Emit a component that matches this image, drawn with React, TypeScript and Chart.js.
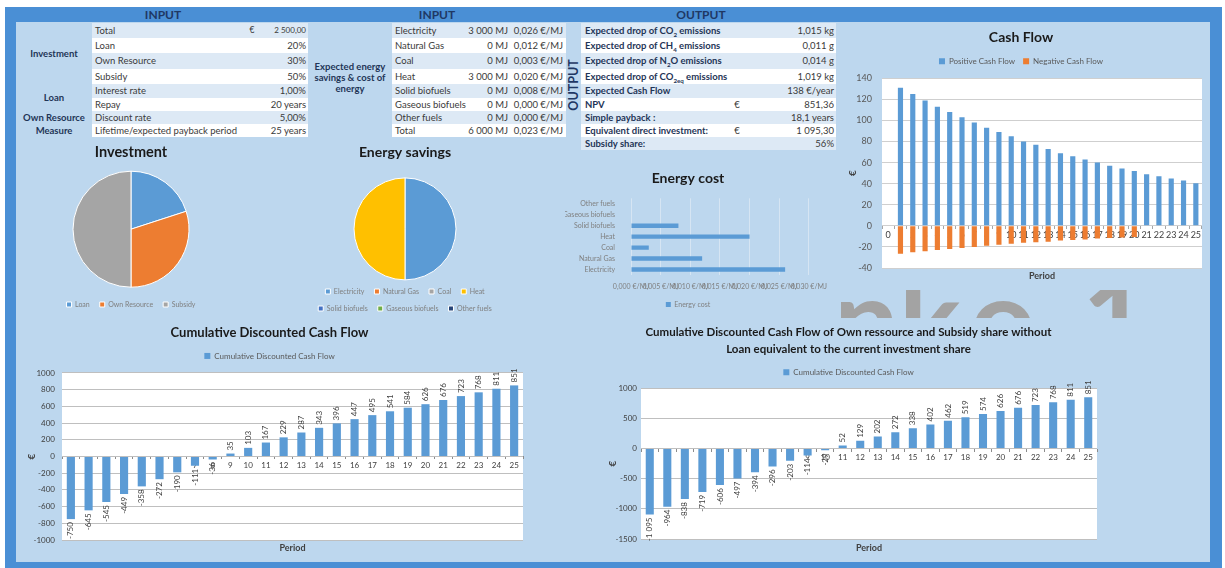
import React, { useEffect, useRef } from "react";
import { Chart, registerables } from "chart.js";

Chart.register(...registerables);

const FONT = "Lato, 'Open Sans', 'DejaVu Sans', sans-serif";
Chart.defaults.font.family = FONT;

// ---------------- data ----------------
const investmentRowLabels = ["Total", "Loan", "Own Resource", "Subsidy", "Interest rate", "Repay", "Discount rate", "Lifetime/expected payback period"];
const investmentRowValues = ["2 500,00", "20%", "30%", "50%", "1,00%", "20 years", "5,00%", "25 years"];
const investmentRowCurrency = ["€", "", "", "", "", "", "", ""];
const investmentGroupLabels = ["Investment", "Loan", "Own Resource", "Measure"];
const investmentGroupRows = [[0, 3], [4, 5], [6, 6], [7, 7]];

const energyLabels = ["Electricity", "Natural Gas", "Coal", "Heat", "Solid biofuels", "Gaseous biofuels", "Other fuels"];
const energySavingsMJ = [3000, 0, 0, 3000, 0, 0, 0];
const energyCostPerMJ = [0.026, 0.012, 0.003, 0.02, 0.008, 0.0, 0.0];
const energyTotalCostPerMJ = 0.023;
const energyGroupLabel = ["Expected energy", "savings & cost of", "energy"];

const outputLabelParts = [
  ["Expected drop of CO", "2", " emissions"],
  ["Expected drop of CH", "4", " emissions"],
  ["Expected drop of N", "2", "O emissions"],
  ["Expected drop of CO", "2eq", " emissions"],
  ["Expected Cash Flow", "", ""],
  ["NPV", "", ""],
  ["Simple payback :", "", ""],
  ["Equivalent direct investment:", "", ""],
  ["Subsidy share:", "", ""],
];
const outputValues = ["1,015 kg", "0,011 g", "0,014 g", "1,019 kg", "138 €/year", "851,36", "18,1 years", "1 095,30", "56%"];
const outputCurrency = ["", "", "", "", "", "€", "", "€", ""];

const investmentLabels = ["Loan", "Own Resource", "Subsidy"];
const investmentShares = [20, 30, 50];

const periods = ["0", "1", "2", "3", "4", "5", "6", "7", "8", "9", "10", "11", "12", "13", "14", "15", "16", "17", "18", "19", "20", "21", "22", "23", "24", "25"];
const positiveCashFlow = [0, 131, 125, 119, 113, 108, 103, 98, 93, 89, 85, 80, 77, 73, 69, 66, 63, 60, 57, 54.5, 52, 49, 47, 45, 43, 40.5];
const negativeCashFlow = [0, -26.5, -25, -24, -23, -22, -21, -20, -19, -18, -17, -16, -15.5, -15, -14, -13.5, -13, -12, -11.5, -11, -10.5, 0, 0, 0, 0, 0];
const cumulativeDCF = [-750, -645, -545, -449, -358, -272, -190, -111, -36, 35, 103, 167, 229, 287, 343, 396, 447, 495, 541, 584, 626, 676, 723, 768, 811, 851];
const cumulativeOwnSubsidy = [-1095, -964, -838, -719, -606, -497, -394, -296, -203, -114, -29, 52, 129, 202, 272, 338, 402, 462, 519, 574, 626, 676, 723, 768, 811, 851];

// ---------------- styling ----------------
const BLUE = "#5b9bd5";
const ORANGE = "#ed7d31";
const GRAY = "#a5a5a5";
const YELLOW = "#ffc000";
const DARKBLUE = "#4472c4";
const GREEN = "#70ad47";
const NAVY = "#264478";
const FRAME = "#4a8fd5";
const PANEL = "#bdd7ee";
const ROW_LIGHT = "#dde9f5";
const ROW_WHITE = "#ffffff";
const TXT = "#3a3a3a";
const TXT_BOLD = "#1f3557";

const ROW_TOPS = [23, 38, 53, 69, 84, 98, 111, 124, 137, 150];

function groupThousands(n: number): string {
  const s = String(Math.abs(Math.round(n)));
  const parts: string[] = [];
  for (let i = s.length; i > 0; i -= 3) parts.unshift(s.slice(Math.max(0, i - 3), i));
  return (n < 0 ? "-" : "") + parts.join(" ");
}
const fmtCost = (v: number) => v.toFixed(3).replace(".", ",") + " €/MJ";

// ---------------- plugins ----------------
const plotBackground = {
  id: "plotBackground",
  beforeDraw(chart: any) {
    const { ctx, chartArea } = chart;
    ctx.save();
    ctx.fillStyle = "#ffffff";
    ctx.fillRect(chartArea.left, chartArea.top, chartArea.width, chartArea.height);
    ctx.restore();
  },
};

const legendGap = (extra: number) => ({
  id: "legendGap",
  beforeInit(chart: any) {
    const legend = chart.legend;
    if (!legend) return;
    const orig = legend.fit;
    legend.fit = function () {
      orig.call(this);
      this.height += extra;
    };
  },
});

const barValueLabels = {
  id: "barValueLabels",
  afterDatasetsDraw(chart: any) {
    const ctx = chart.ctx;
    const meta = chart.getDatasetMeta(0);
    const data = chart.data.datasets[0].data;
    ctx.save();
    ctx.font = `8px ${FONT}`;
    ctx.fillStyle = "#404040";
    ctx.textBaseline = "middle";
    meta.data.forEach((bar: any, i: number) => {
      const v = data[i];
      const text = groupThousands(v);
      ctx.save();
      ctx.translate(bar.x, bar.y);
      ctx.rotate(-Math.PI / 2);
      if (v >= 0) {
        ctx.textAlign = "left";
        ctx.fillText(text, 3, 0);
      } else {
        ctx.textAlign = "right";
        ctx.fillText(text, -3, 0);
      }
      ctx.restore();
    });
    ctx.restore();
  },
};

// ---------------- chart configs ----------------
function investmentPieConfig() {
  return {
    type: "pie",
    data: {
      labels: investmentLabels,
      datasets: [{ data: investmentShares, backgroundColor: [BLUE, ORANGE, GRAY], borderColor: "#ffffff", borderWidth: 1, radius: 58 }],
    },
    options: {
      animation: false,
      responsive: false,
      events: [],
      plugins: {
        title: { display: true, text: "Investment", color: "#1a1a1a", font: { size: 14.5, weight: "bold" }, padding: { top: 2, bottom: 6 } },
        legend: { position: "bottom", labels: { boxWidth: 5, boxHeight: 5, color: "#7f7f7f", font: { size: 7 }, padding: 10 } },
        tooltip: { enabled: false },
      },
    },
  };
}

function energyPieConfig() {
  return {
    type: "pie",
    data: {
      labels: energyLabels,
      datasets: [{ data: energySavingsMJ, backgroundColor: [BLUE, ORANGE, GRAY, YELLOW, DARKBLUE, GREEN, NAVY], borderColor: "#ffffff", borderWidth: 1, radius: 51 }],
    },
    options: {
      animation: false,
      responsive: false,
      events: [],
      plugins: {
        title: { display: true, text: "Energy savings", color: "#1a1a1a", font: { size: 14, weight: "bold" }, padding: { top: 2, bottom: 19 } },
        legend: { position: "bottom", labels: { boxWidth: 5, boxHeight: 5, color: "#7f7f7f", font: { size: 7 }, padding: 10 } },
        tooltip: { enabled: false },
      },
    },
  };
}

function energyCostConfig() {
  return {
    type: "bar",
    data: {
      labels: energyLabels,
      datasets: [{ label: "Energy cost", data: energyCostPerMJ, backgroundColor: BLUE, barPercentage: 0.4, categoryPercentage: 1 }],
    },
    options: {
      indexAxis: "y",
      animation: false,
      responsive: false,
      events: [],
      layout: { padding: { right: 24 } },
      plugins: {
        title: { display: true, text: "Energy cost", color: "#1a1a1a", font: { size: 14, weight: "bold" }, padding: { top: 7.5, bottom: 11 } },
        legend: { position: "bottom", labels: { boxWidth: 5, boxHeight: 5, color: "#7f7f7f", font: { size: 7 }, padding: 10 } },
        tooltip: { enabled: false },
      },
      scales: {
        x: {
          min: 0,
          max: 0.03,
          grid: { color: "#d6e5f3", drawTicks: false },
          border: { display: false },
          ticks: { stepSize: 0.005, autoSkip: false, maxRotation: 0, color: "#7f7f7f", font: { size: 7 }, padding: 8, callback: (v: any) => fmtCost(Number(v)) },
          afterFit: (s: any) => {
            s.height = 16;
          },
        },
        y: {
          reverse: true,
          grid: { display: false },
          border: { display: false },
          ticks: { color: "#7f7f7f", font: { size: 7 }, padding: 8, autoSkip: false },
          afterFit: (s: any) => {
            s.width = 66;
          },
        },
      },
    },
  };
}

function cashFlowConfig() {
  return {
    type: "bar",
    data: {
      labels: periods,
      datasets: [
        { label: "Positive Cash Flow", data: positiveCashFlow, backgroundColor: BLUE, barPercentage: 0.42, categoryPercentage: 1 },
        { label: "Negative Cash Flow", data: negativeCashFlow, backgroundColor: ORANGE, barPercentage: 0.42, categoryPercentage: 1 },
      ],
    },
    options: {
      animation: false,
      responsive: false,
      events: [],
      layout: { padding: { right: 8 } },
      plugins: {
        title: { display: true, text: "Cash Flow", color: "#1a1a1a", font: { size: 14, weight: "bold" }, padding: { top: 7.5, bottom: 3 } },
        legend: { labels: { boxWidth: 6, boxHeight: 6, color: "#595959", font: { size: 8 }, padding: 8 } },
        tooltip: { enabled: false },
      },
      scales: {
        x: {
          stacked: true,
          position: { y: 0 },
          z: 1,
          grid: { drawOnChartArea: false, drawTicks: true, tickLength: 3, color: "#a6a6a6" },
          border: { display: false },
          ticks: { color: "#404040", font: { size: 9 }, autoSkip: false, maxRotation: 0, padding: 1 },
        },
        xTitle: {
          axis: "x",
          type: "category",
          position: "bottom",
          grid: { display: false },
          border: { display: false },
          ticks: { display: false },
          title: { display: true, text: "Period", color: "#404040", font: { size: 9, weight: "bold" }, padding: { top: 0, bottom: 3 } },
          afterFit: (s: any) => {
            s.height = 16;
          },
        },
        y: {
          stacked: true,
          min: -40,
          max: 140,
          grid: { color: "#cfcfcf", drawTicks: false },
          border: { display: false },
          ticks: { stepSize: 20, color: "#595959", font: { size: 9 }, padding: 10, callback: (v: any) => String(v) },
          title: { display: true, text: "€", color: "#404040", font: { size: 10, weight: "bold" }, padding: { top: 7, bottom: 0 } },
          afterFit: (s: any) => {
            s.width = 42;
          },
        },
      },
    },
    plugins: [plotBackground, legendGap(3)],
  };
}

function cumulativeConfig(opts: any) {
  return {
    type: "bar",
    data: {
      labels: periods,
      datasets: [{ label: "Cumulative Discounted Cash Flow", data: opts.values, backgroundColor: BLUE, barPercentage: 0.46, categoryPercentage: 1 }],
    },
    options: {
      animation: false,
      responsive: false,
      events: [],
      layout: { padding: { right: opts.padRight } },
      plugins: {
        title: {
          display: true,
          text: opts.title,
          color: "#1a1a1a",
          font: { size: opts.titleSize, weight: "bold", lineHeight: opts.titleLineHeight },
          padding: { top: opts.titleTop, bottom: opts.titleBottom },
        },
        legend: { labels: { boxWidth: 6, boxHeight: 6, color: "#595959", font: { size: 8 }, padding: 8 } },
        tooltip: { enabled: false },
      },
      scales: {
        x: {
          position: { y: 0 },
          z: 1,
          grid: { drawOnChartArea: false, drawTicks: true, tickLength: 3, color: "#8c8c8c" },
          border: { display: false },
          ticks: { color: "#404040", font: { size: 8 }, autoSkip: false, maxRotation: 0, padding: 1 },
        },
        xTitle: {
          axis: "x",
          type: "category",
          position: "bottom",
          grid: { display: false },
          border: { display: false },
          ticks: { display: false },
          title: { display: true, text: "Period", color: "#404040", font: { size: 9, weight: "bold" }, padding: { top: 0, bottom: 9 } },
          afterFit: (s: any) => {
            s.height = opts.bottomHeight;
          },
        },
        y: {
          min: opts.min,
          max: opts.max,
          grid: { color: "#bfbfbf", drawTicks: false },
          border: { display: false },
          ticks: { stepSize: opts.step, color: "#404040", font: { size: 8 }, padding: opts.labelPad, callback: (v: any) => String(v) },
          title: { display: true, text: "€", color: "#404040", font: { size: 10, weight: "bold" }, padding: { top: opts.euroPad, bottom: 0 } },
          afterFit: (s: any) => {
            s.width = opts.yWidth;
          },
        },
      },
    },
    plugins: [plotBackground, legendGap(opts.legendExtra), barValueLabels],
  };
}

// ---------------- components ----------------
function ChartCanvas({ left, top, width, height, make }: any) {
  const ref = useRef<HTMLCanvasElement | null>(null);
  useEffect(() => {
    if (!ref.current) return;
    const chart = new Chart(ref.current, make());
    return () => chart.destroy();
  }, []);
  return (
    <div style={{ position: "absolute", left, top, width, height }}>
      <canvas ref={ref} width={width} height={height} style={{ width, height, display: "block" }} />
    </div>
  );
}

function Txt({ x, y, h, align = "left", w = 220, bold = false, size = 9.5, color, children }: any) {
  const left = align === "left" ? x : align === "right" ? x - w : x - w / 2;
  return (
    <div
      style={{
        position: "absolute",
        left,
        top: y,
        width: w,
        height: h,
        lineHeight: h + "px",
        textAlign: align,
        fontWeight: bold ? 700 : 400,
        fontSize: size,
        color: color || (bold ? TXT_BOLD : TXT),
        whiteSpace: "nowrap",
      }}
    >
      {children}
    </div>
  );
}

function RowStrips({ x0, x1, rows }: any) {
  const out = [];
  for (let i = 0; i < rows; i++) {
    out.push(
      <div
        key={i}
        style={{
          position: "absolute",
          left: x0,
          top: ROW_TOPS[i],
          width: x1 - x0,
          height: ROW_TOPS[i + 1] - ROW_TOPS[i],
          background: i % 2 === 0 ? ROW_LIGHT : ROW_WHITE,
        }}
      />
    );
  }
  return <>{out}</>;
}

const rowY = (i: number) => ROW_TOPS[i];
const rowH = (i: number) => ROW_TOPS[i + 1] - ROW_TOPS[i];

export default function App() {
  const energySavingsTotal = energySavingsMJ.reduce((a, b) => a + b, 0);
  return (
    <div style={{ position: "fixed", left: 0, top: 0, width: 1225, height: 568, background: "#ffffff", overflow: "hidden", fontFamily: FONT }}>
      {/* frame */}
      <div style={{ position: "absolute", left: 5, top: 7, width: 1217, height: 561, background: FRAME }} />
      <div style={{ position: "absolute", left: 16, top: 22, width: 1194, height: 540, background: PANEL }} />

      {/* headers */}
      <Txt x={163} y={7} h={15} align="center" bold size={12} color="#1f3864">INPUT</Txt>
      <Txt x={437} y={7} h={15} align="center" bold size={12} color="#1f3864">INPUT</Txt>
      <Txt x={701} y={7} h={15} align="center" bold size={12} color="#1f3864">OUTPUT</Txt>

      {/* left input table */}
      <RowStrips x0={92} x1={308} rows={8} />
      {investmentGroupLabels.map((g, i) => {
        const [a, b] = investmentGroupRows[i];
        const y0 = ROW_TOPS[a];
        const y1 = ROW_TOPS[b + 1];
        return (
          <Txt key={g} x={54} y={y0} h={y1 - y0} align="center" w={80} bold>
            {g}
          </Txt>
        );
      })}
      {investmentRowLabels.map((l, i) => (
        <React.Fragment key={l}>
          <Txt x={95} y={rowY(i)} h={rowH(i)}>{l}</Txt>
          {investmentRowCurrency[i] ? (
            <Txt x={252} y={rowY(i)} h={rowH(i)} align="center" w={10} size={8.5}>{investmentRowCurrency[i]}</Txt>
          ) : null}
          <Txt x={306} y={rowY(i)} h={rowH(i)} align="right" w={90} size={i === 0 ? 8 : 9.5}>{investmentRowValues[i]}</Txt>
        </React.Fragment>
      ))}

      {/* middle input table */}
      <RowStrips x0={392} x1={566} rows={8} />
      <div style={{ position: "absolute", left: 308, top: 61, width: 84, textAlign: "center", fontWeight: 700, fontSize: 9.5, lineHeight: "11px", color: TXT_BOLD }}>
        {energyGroupLabel.map((l) => (
          <div key={l} style={{ whiteSpace: "nowrap" }}>{l}</div>
        ))}
      </div>
      {energyLabels.map((l, i) => (
        <React.Fragment key={l}>
          <Txt x={395} y={rowY(i)} h={rowH(i)}>{l}</Txt>
          <Txt x={508} y={rowY(i)} h={rowH(i)} align="right" w={60}>{groupThousands(energySavingsMJ[i]) + " MJ"}</Txt>
          <Txt x={563} y={rowY(i)} h={rowH(i)} align="right" w={60}>{fmtCost(energyCostPerMJ[i])}</Txt>
        </React.Fragment>
      ))}
      <Txt x={395} y={rowY(7)} h={rowH(7)}>Total</Txt>
      <Txt x={508} y={rowY(7)} h={rowH(7)} align="right" w={60}>{groupThousands(energySavingsTotal) + " MJ"}</Txt>
      <Txt x={563} y={rowY(7)} h={rowH(7)} align="right" w={60}>{fmtCost(energyTotalCostPerMJ)}</Txt>

      {/* vertical OUTPUT label */}
      <div
        style={{
          position: "absolute",
          left: 574 - 30,
          top: 85 - 8,
          width: 60,
          height: 16,
          lineHeight: "16px",
          textAlign: "center",
          transform: "rotate(-90deg)",
          fontWeight: 700,
          fontSize: 12.5,
          color: "#1f3864",
        }}
      >
        OUTPUT
      </div>

      {/* output table */}
      <RowStrips x0={581} x1={836} rows={9} />
      {outputLabelParts.map((p, i) => (
        <React.Fragment key={i}>
          <Txt x={585} y={rowY(i)} h={rowH(i)} bold>
            {p[0]}
            {p[1] ? <sub style={{ fontSize: "0.65em", lineHeight: 0 }}>{p[1]}</sub> : null}
            {p[2]}
          </Txt>
          {outputCurrency[i] ? (
            <Txt x={737} y={rowY(i)} h={rowH(i)} align="center" w={10}>{outputCurrency[i]}</Txt>
          ) : null}
          <Txt x={834} y={rowY(i)} h={rowH(i)} align="right" w={90}>{outputValues[i]}</Txt>
        </React.Fragment>
      ))}

      {/* faint background lettering */}
      <div style={{ position: "absolute", left: 830, top: 290, width: 320, height: 28, overflow: "hidden" }}>
        {[["n", 4], ["k", 69], ["o", 140], ["1", 252]].map(([ch, x]: any) => (
          <span key={ch} style={{ position: "absolute", left: x, top: -31, fontSize: 115, lineHeight: "115px", fontWeight: 700, color: "#a3a3a3" }}>
            {ch}
          </span>
        ))}
      </div>

      {/* charts */}
      <ChartCanvas left={46} top={142} width={170} height={176} make={investmentPieConfig} />
      <ChartCanvas left={295} top={142} width={220} height={180} make={energyPieConfig} />
      <ChartCanvas left={565} top={163} width={270} height={155} make={energyCostConfig} />
      <ChartCanvas left={840} top={22} width={370} height={262} make={cashFlowConfig} />
      <ChartCanvas
        left={16}
        top={318}
        width={520}
        height={244}
        make={() =>
          cumulativeConfig({
            title: "Cumulative Discounted Cash Flow",
            titleSize: 13,
            titleLineHeight: 1.15,
            values: cumulativeDCF,
            min: -1000,
            max: 1000,
            step: 200,
            yWidth: 46,
            padRight: 13,
            titleTop: 7.5,
            titleBottom: 3.5,
            legendExtra: 3,
            bottomHeight: 22,
            labelPad: 7,
            euroPad: 10,
          })
        }
      />
      <ChartCanvas
        left={600}
        top={318}
        width={500}
        height={244}
        make={() =>
          cumulativeConfig({
            title: ["Cumulative Discounted Cash Flow of Own ressource and Subsidy share without", "Loan equivalent to the current investment share"],
            titleSize: 11.5,
            titleLineHeight: 1.48,
            values: cumulativeOwnSubsidy,
            min: -1500,
            max: 1000,
            step: 500,
            yWidth: 41,
            padRight: 3,
            titleTop: 5.5,
            titleBottom: 2.8,
            legendExtra: 2,
            bottomHeight: 23,
            labelPad: 4,
            euroPad: 7,
          })
        }
      />
    </div>
  );
}
